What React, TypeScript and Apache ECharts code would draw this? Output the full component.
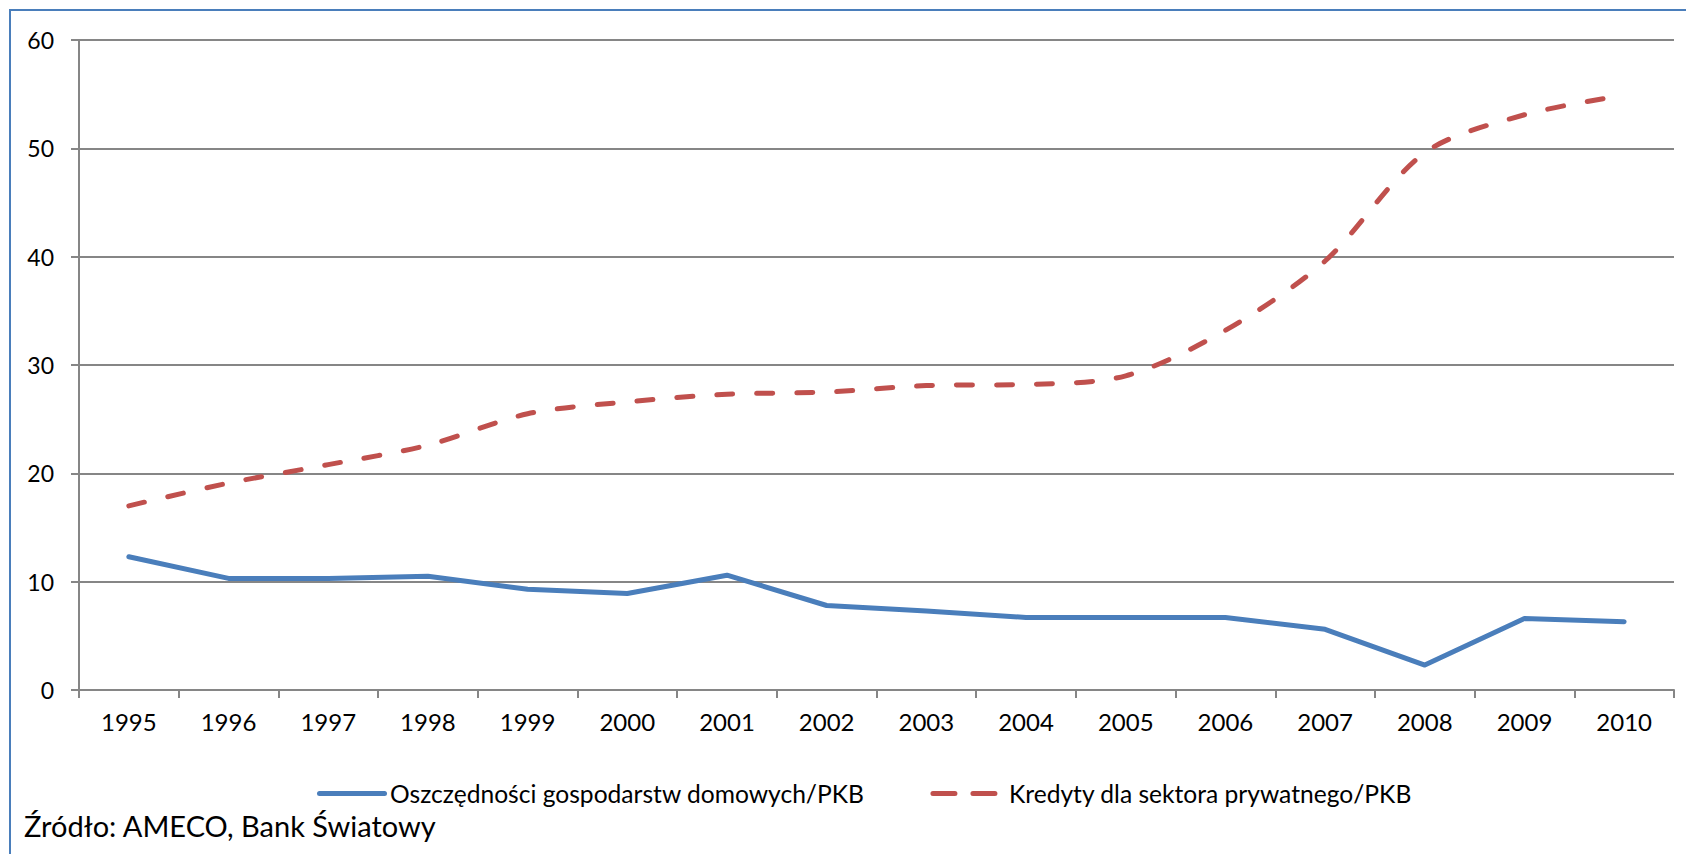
import React, { useEffect, useRef } from "react";
import * as echarts from "echarts";

const years = ["1995","1996","1997","1998","1999","2000","2001","2002","2003","2004","2005","2006","2007","2008","2009","2010"];
const savings = [12.3, 10.3, 10.3, 10.5, 9.3, 8.9, 10.6, 7.8, 7.3, 6.7, 6.7, 6.7, 5.6, 2.3, 6.6, 6.3];
const credits = [17.0, 19.1, 20.8, 22.6, 25.5, 26.6, 27.3, 27.5, 28.1, 28.2, 29.0, 33.2, 39.6, 49.6, 53.1, 54.9];
const seriesNames = ["Oszczędności gospodarstw domowych/PKB", "Kredyty dla sektora prywatnego/PKB"];
const sourceText = "Źródło: AMECO, Bank Światowy";

const FONT = "Lato, 'Open Sans', sans-serif";
const GRAY = "#868686";
const BLUE = "#4A7EBB";
const RED = "#C0504D";

const SOLID_ICON = "path://M2.5,0h65a2.5,2.5 0 0 1 0,5h-65a2.5,2.5 0 0 1 0,-5z";
const DASH_ICON =
  "path://M2.5,0h22a2.5,2.5 0 0 1 0,5h-22a2.5,2.5 0 0 1 0,-5z M42.5,0h22a2.5,2.5 0 0 1 0,5h-22a2.5,2.5 0 0 1 0,-5z";

export default function App() {
  const ref = useRef<HTMLDivElement>(null);
  useEffect(() => {
    document.body.style.margin = "0";
    const chart = echarts.init(ref.current!, null, { renderer: "svg" });
    chart.setOption({
      animation: false,
      backgroundColor: "#ffffff",
      textStyle: { fontFamily: FONT, color: "#000" },
      grid: { left: 79, right: 12, top: 40, bottom: 164 },
      xAxis: {
        type: "category",
        data: years,
        boundaryGap: true,
        axisLine: { lineStyle: { color: GRAY, width: 2 } },
        axisTick: { show: true, length: 8, lineStyle: { color: GRAY, width: 2 } },
        axisLabel: { color: "#000", fontSize: 24, margin: 19, fontFamily: FONT },
      },
      yAxis: {
        type: "value",
        min: 0,
        max: 60,
        interval: 10,
        axisLine: { show: true, lineStyle: { color: GRAY, width: 2 } },
        axisTick: { show: true, length: 8, lineStyle: { color: GRAY, width: 2 } },
        axisLabel: { color: "#000", fontSize: 23, margin: 25, fontFamily: FONT },
        splitLine: { lineStyle: { color: GRAY, width: 2 } },
      },
      legend: {
        left: 317,
        top: 781,
        padding: 0,
        itemGap: 66,
        itemWidth: 70,
        itemHeight: 5,
        textStyle: { fontSize: 24.6, color: "#000", fontFamily: FONT, padding: [0, 0, 0, -2] },
        data: [
          { name: seriesNames[0], icon: SOLID_ICON, itemStyle: { color: BLUE } },
          {
            name: seriesNames[1],
            icon: DASH_ICON,
            itemStyle: { color: RED },
            textStyle: { fontSize: 24.6, color: "#000", fontFamily: FONT, padding: [0, 0, 0, 5] },
          },
        ],
      },
      graphic: [
        {
          type: "rect",
          shape: { x: 10, y: 10, width: 1700, height: 900 },
          style: { fill: "none", stroke: BLUE, lineWidth: 2 },
          silent: true,
        },
        {
          type: "text",
          left: 24,
          top: 811,
          style: { text: sourceText, fontSize: 29, fill: "#000", fontFamily: FONT },
        },
      ],
      series: [
        {
          name: seriesNames[0],
          type: "line",
          data: savings,
          symbol: "none",
          lineStyle: { color: BLUE, width: 5, cap: "round", join: "round" },
          itemStyle: { color: BLUE },
        },
        {
          name: seriesNames[1],
          type: "line",
          data: credits,
          symbol: "none",
          smooth: 0.3,
          lineStyle: { color: RED, width: 5, type: [16, 24], cap: "round", join: "round" },
          itemStyle: { color: RED },
        },
      ],
    });
    return () => chart.dispose();
  }, []);
  return <div ref={ref} style={{ width: 1686, height: 854 }} />;
}
